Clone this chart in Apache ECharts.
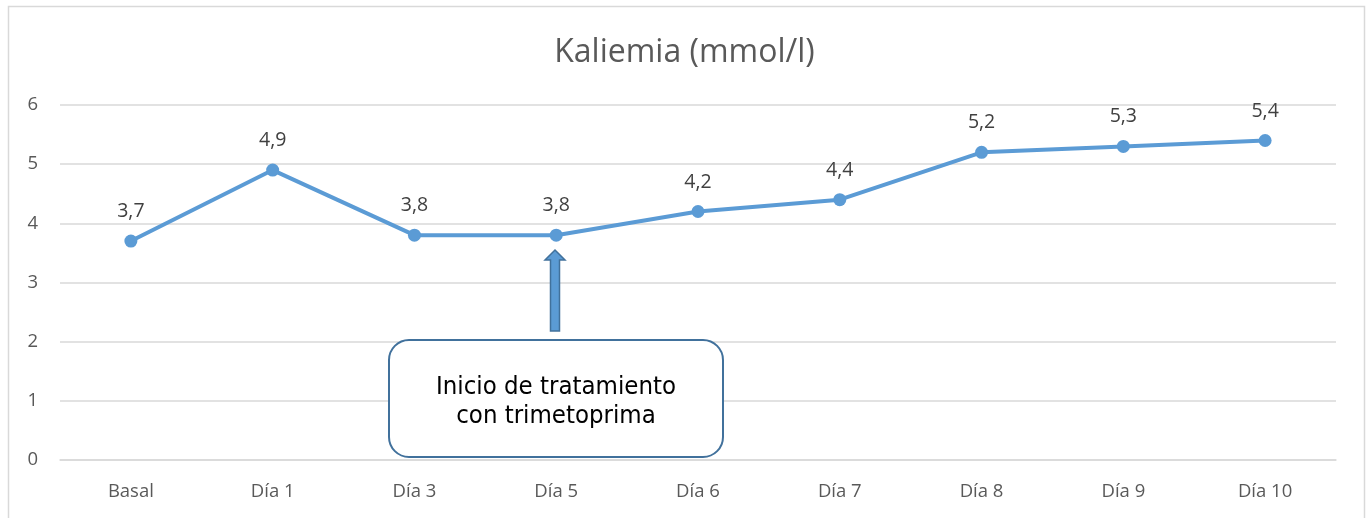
<!DOCTYPE html>
<html>
<head>
<meta charset="utf-8">
<script src="https://cdn.jsdelivr.net/npm/echarts@6/dist/echarts.min.js"></script>
<style>
  html, body { margin: 0; padding: 0; background: #fff; }
  #main { width: 1369px; height: 518px; }
</style>
</head>
<body>
<div id="main"></div>
<script>
// datos de kaliemia
var dias = ['Basal', 'Día 1', 'Día 3', 'Día 5', 'Día 6', 'Día 7', 'Día 8', 'Día 9', 'Día 10'];
var kaliemia = [3.7, 4.9, 3.8, 3.8, 4.2, 4.4, 5.2, 5.3, 5.4];

var font = '"Open Sans", "Noto Sans", sans-serif';

function loadChart(id, option) {
    var myChart = echarts.init(document.getElementById(id));
    myChart.setOption(option);
    return myChart;
}

var option = {
    animation: false,
    title: {
        text: 'Kaliemia (mmol/l)',
        left: 'center',
        top: 32,
        textStyle: { fontFamily: font, fontSize: 32, fontWeight: 'normal', color: '#595959' }
    },
    grid: { left: 60, right: 33, top: 105, bottom: 58 },
    xAxis: {
        type: 'category',
        data: dias,
        boundaryGap: true,
        axisLine: { show: true, lineStyle: { color: '#d9d9d9', width: 1.5 } },
        axisTick: { show: false },
        axisLabel: { margin: 22, fontFamily: font, fontSize: 18.5, color: '#595959' }
    },
    yAxis: {
        type: 'value',
        min: 0, max: 6, interval: 1,
        axisLine: { show: false },
        axisTick: { show: false },
        axisLabel: { margin: 22, fontFamily: font, fontSize: 18.5, color: '#595959' },
        splitLine: { lineStyle: { color: '#d9d9d9', width: 1.5 } }
    },
    series: [{
        type: 'line',
        data: kaliemia,
        symbol: 'circle',
        symbolSize: 13,
        lineStyle: { color: '#5b9bd5', width: 4 },
        itemStyle: { color: '#5b9bd5' },
        label: {
            show: true,
            position: 'top',
            distance: 13,
            fontFamily: font,
            fontSize: 19.5,
            color: '#404040',
            formatter: function (p) { return String(p.value).replace('.', ','); }
        }
    }],
    graphic: [
        {   // borde exterior
            type: 'rect',
            shape: { x: 8.5, y: 6.5, width: 1356, height: 530 },
            style: { fill: 'none', stroke: '#d9d9d9', lineWidth: 1.5 },
            silent: true
        },
        {   // flecha
            type: 'polygon',
            shape: { points: [[555, 250], [565, 260], [559.5, 260], [559.5, 331], [550.5, 331], [550.5, 260], [545, 260]] },
            style: { fill: '#5b9bd5', stroke: '#41719c', lineWidth: 1.5 },
            z: 10
        },
        {   // recuadro
            type: 'rect',
            shape: { x: 389, y: 340, width: 334, height: 117, r: 20 },
            style: { fill: '#fff', stroke: '#41719c', lineWidth: 2 },
            z: 10
        },
        {
            type: 'text',
            x: 556, y: 401.5,
            style: {
                text: 'Inicio de tratamiento\ncon trimetoprima',
                fontFamily: '"DejaVu Sans Condensed", "Liberation Sans", sans-serif',
                fontSize: 25.5,
                lineHeight: 29,
                fill: '#000',
                align: 'center',
                verticalAlign: 'middle'
            },
            z: 11
        }
    ]
};

loadChart('main', option);
</script>
</body>
</html>
